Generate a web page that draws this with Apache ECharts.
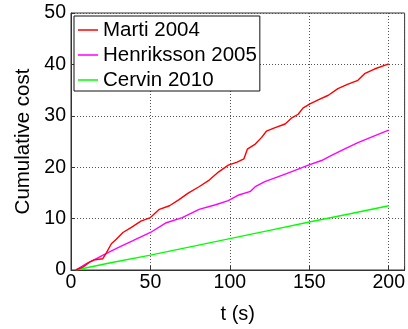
<!DOCTYPE html>
<html>
<head>
<meta charset="utf-8">
<script src="https://cdn.jsdelivr.net/npm/echarts@6/dist/echarts.min.js"></script>
<style>
html,body{margin:0;padding:0;background:#fff;}
#chart{width:408px;height:329px;}
</style>
</head>
<body>
<div id="chart"></div>
<script>
// Data
var seriesNames = ['Marti 2004', 'Henriksson 2005', 'Cervin 2010'];
var seriesColors = ['#ff0000', '#ff00ff', '#00ff00'];

var martiT = [3, 7.7, 12, 15, 20, 22, 25.4, 28.5, 32.7, 38, 44, 50, 55.6, 62, 68, 74, 80.6, 87, 93, 99, 104.6, 108.8, 111, 116, 120, 123, 128.5, 134.8, 139, 143, 146, 150.4, 155.6, 162, 168, 174, 180.6, 184.8, 191, 200];
var martiV = [0, 0.6, 1.6, 2.0, 2.2, 3.2, 5.1, 6.0, 7.3, 8.3, 9.5, 10.2, 11.8, 12.5, 13.7, 15.0, 16.2, 17.5, 19.1, 20.4, 21.0, 21.6, 23.5, 24.5, 25.8, 27.0, 27.7, 28.4, 29.6, 30.3, 31.5, 32.3, 33.1, 34.0, 35.3, 36.1, 36.9, 38.2, 39.1, 40.1];

var henT = [3, 10, 16, 22, 30.6, 39, 50, 60, 70, 80.6, 91, 99, 105.6, 113, 116, 122, 132.7, 141, 149.4, 157.7, 164, 172, 180.6, 191, 200];
var henV = [0, 1.3, 2.2, 3.2, 4.5, 5.7, 7.3, 9.2, 10.2, 11.8, 12.7, 13.5, 14.6, 15.3, 16.2, 17.2, 18.4, 19.4, 20.4, 21.3, 22.3, 23.5, 24.8, 26.1, 27.2];

var cerT = [3, 25, 50, 75, 100, 125, 150, 175, 200];
var cerV = [0, 1.4, 2.9, 4.5, 6.1, 7.7, 9.35, 10.9, 12.5];

var xTicks = [0, 50, 100, 150, 200];
var yTicks = [0, 10, 20, 30, 40, 50];

function pairs(t, v) { return t.map(function (x, i) { return [x, v[i]]; }); }

var chart = echarts.init(document.getElementById('chart'), null, {renderer: 'canvas'});
var font = 'Liberation Sans, Arial, sans-serif';
var seriesData = [pairs(martiT, martiV), pairs(henT, henV), pairs(cerT, cerV)];

chart.setOption({
  animation: false,
  backgroundColor: '#fff',
  grid: {left: 71, right: 2, top: 13, bottom: 54, show: true, borderColor: '#333', borderWidth: 1, backgroundColor: 'transparent'},
  legend: {
    orient: 'vertical', left: 74, top: 16,
    backgroundColor: '#fff', borderColor: '#111', borderWidth: 1,
    padding: [3, 3, 0, 4], itemGap: 3,
    itemWidth: 20, itemHeight: 1.5, icon: 'rect',
    textStyle: {fontFamily: font, fontSize: 20.5, color: '#000', lineHeight: 22},
    data: seriesNames
  },
  xAxis: {
    type: 'value', min: 0, max: 210, interval: 50,
    name: 't (s)', nameLocation: 'middle', nameGap: 34,
    nameTextStyle: {fontFamily: font, fontSize: 20, color: '#000'},
    axisLine: {show: true, onZero: false, lineStyle: {color: '#333'}},
    axisTick: {show: true, inside: true, length: 4, lineStyle: {color: '#333'}},
    axisLabel: {fontFamily: font, fontSize: 19.5, color: '#000', margin: 3,
      formatter: function (v) { return xTicks.indexOf(v) >= 0 ? String(v) : ''; }},
    splitLine: {show: true, lineStyle: {color: '#555', type: [1, 2], width: 1}}
  },
  yAxis: {
    type: 'value', min: 0, max: 50, interval: 10,
    name: 'Cumulative cost', nameLocation: 'middle', nameGap: 35,
    nameTextStyle: {fontFamily: font, fontSize: 20.5, color: '#000'},
    axisLine: {show: true, lineStyle: {color: '#333'}},
    axisTick: {show: true, inside: true, length: 4, lineStyle: {color: '#333'}},
    axisLabel: {fontFamily: font, fontSize: 19.5, color: '#000', margin: 5,
      formatter: function (v) { return yTicks.indexOf(v) >= 0 ? String(v) : ''; }},
    splitLine: {show: true, lineStyle: {color: '#555', type: [1, 2], width: 1}}
  },
  series: seriesNames.map(function (n, i) {
    return {
      name: n, type: 'line', data: seriesData[i], showSymbol: false, symbol: 'none',
      color: seriesColors[i], lineStyle: {width: 1.4, color: seriesColors[i]}, z: 3 - i
    };
  })
});
</script>
</body>
</html>
